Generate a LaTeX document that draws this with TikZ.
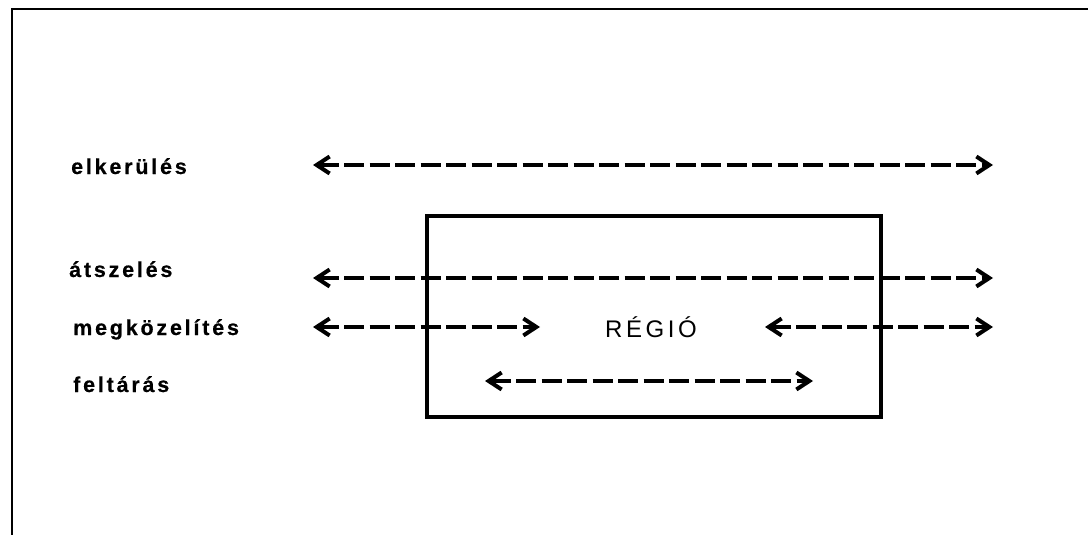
\documentclass[tikz,border=0pt]{standalone}
\usepackage{fontspec}
\setmainfont{Liberation Sans}
\newfontfamily\lblfont[LetterSpace=13,FakeBold=0.5]{Liberation Sans Bold}
\newfontfamily\regfont[LetterSpace=15]{Liberation Sans}
\usetikzlibrary{arrows.meta}
\begin{document}
\begin{tikzpicture}[x=1pt,y=-1pt,
  lbl/.style={anchor=base west,inner sep=0pt,font=\lblfont\fontsize{21.5}{25}\selectfont},
  darrow/.style={line width=4pt,dash pattern=on 20pt off 5.5pt,
    {Straight Barb[length=13pt,width=17pt,line width=4pt]}-{Straight Barb[length=13pt,width=17pt,line width=4pt]}},
  regionbox/.style={draw,line width=4pt}]
\useasboundingbox (0,0) rectangle (1088,535);
\clip (0,0) rectangle (1088,535);
\draw[line width=2.4pt] (12,560) -- (12,9) -- (1100,9);
% region box
\draw[regionbox] (427,216) rectangle (881,417);
\node[inner sep=0pt,anchor=base,font=\regfont\fontsize{24}{28}\selectfont] (reg) at (651,337) {RÉGIÓ};
% labels
\node[lbl] (l1) at (71,174) {elkerülés};
\node[lbl] (l2) at (69,277) {átszelés};
\node[lbl] (l3) at (73,335) {megközelítés};
\node[lbl] (l4) at (73,392) {feltárás};
% arrow end coordinates
\coordinate (a1l) at (313,165); \coordinate (a1r) at (993,165);
\coordinate (a2l) at (313,278); \coordinate (a2r) at (993,278);
\coordinate (a3l) at (313,327); \coordinate (a3m) at (540,327);
\coordinate (a3n) at (765,327); \coordinate (a3r) at (993,327);
\coordinate (a4l) at (485,381); \coordinate (a4r) at (813,381);
\draw[darrow] (a1l) -- (a1r);
\draw[darrow] (a2l) -- (a2r);
\draw[darrow] (a3l) -- (a3m);
\draw[darrow] (a3n) -- (a3r);
\draw[darrow] (a4l) -- (a4r);
\end{tikzpicture}
\end{document}
